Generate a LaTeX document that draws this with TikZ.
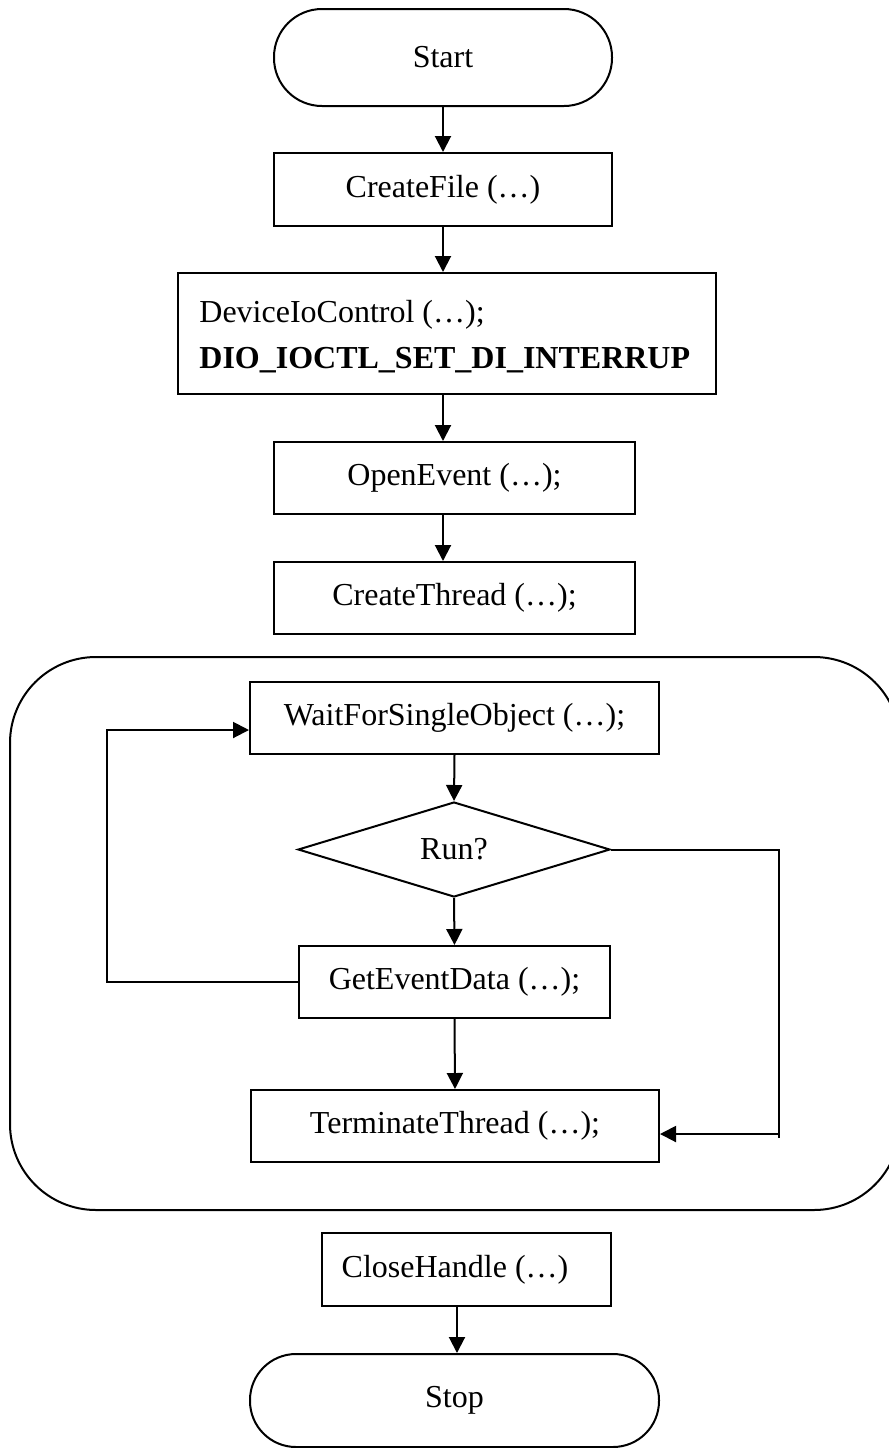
\documentclass[tikz,border=0pt]{standalone}
\usepackage{fontspec}
\setmainfont{Liberation Serif}
\usetikzlibrary{arrows.meta,shapes.geometric}
\begin{document}
\begin{tikzpicture}[x=0.5pt,y=-0.5pt,
  every node/.style={font=\fontsize{16pt}{19pt}\selectfont, inner sep=0pt},
  line/.style={line width=1pt},
  arr/.style={line width=1pt, -{Triangle[length=8pt,width=8pt]}},
  proc/.style={draw, line width=1pt, rectangle},
  termbox/.style={draw, line width=1pt, rectangle, rounded corners=#1},
  decide/.style={draw, line width=1pt, diamond}
]
\useasboundingbox (0,0) rectangle (889,1448);

% outer frame of the worker thread
\node[draw, line width=1pt, rounded corners=43pt, minimum width=445pt, minimum height=276.5pt] (frame) at (455,933.5) {};

% main sequence
\node[termbox=24pt, minimum width=169pt, minimum height=48.5pt] (start) at (443,57.5) {Start};
\node[proc, minimum width=169pt, minimum height=36.5pt] (cfile) at (443,189.5) {CreateFile (…)};
\node[proc, minimum width=269pt, minimum height=60.5pt] (dio) at (447,333.5) {};
\node[anchor=base west] (dioA) at (199,322) {DeviceIoControl (…);};
\node[anchor=base west, font=\fontsize{16pt}{19pt}\selectfont\bfseries] (dioB) at (199,368) {DIO\_IOCTL\_SET\_DI\_INTERRUP};
\node[proc, minimum width=180.5pt, minimum height=36pt] (open) at (454.5,478) {OpenEvent (…);};
\node[proc, minimum width=180.5pt, minimum height=36pt] (thread) at (454.5,598) {CreateThread (…);};

% thread loop
\node[proc, minimum width=204.5pt, minimum height=36pt] (wait) at (454.5,718) {WaitForSingleObject (…);};
\node[decide, minimum width=156pt, minimum height=47.5pt] (run) at (454,849.5) {Run?};
\node[proc, minimum width=155.5pt, minimum height=36pt] (getev) at (454.5,982) {GetEventData (…);};
\node[proc, minimum width=204pt, minimum height=36pt] (term) at (455,1126) {TerminateThread (…);};

% shutdown
\node[proc, minimum width=144.5pt, minimum height=36.5pt] (close) at (466.5,1269.5) {};
\node (closeT) at (455,1269.5) {CloseHandle (…)};
\node[termbox=23pt, minimum width=204.5pt, minimum height=46.5pt] (stop) at (454.5,1400.5) {Stop};

% connectors
\draw[arr] (start.south) -- (cfile.north);
\draw[arr] (cfile.south) -- (cfile.south |- dio.north);
\draw[arr] (cfile.south |- dio.south) -- (cfile.south |- open.north);
\draw[arr] (cfile.south |- open.south) -- (cfile.south |- thread.north);

\draw[arr] (wait.south) -- (run.north);
\draw[arr] (run.south) -- (getev.north);
\draw[arr] (getev.south) -- (term.north);

\coordinate (loopL) at (107,982);
\coordinate (loopT) at (107,730);
\draw[arr] (getev.west) -- (loopL) -- (loopT) -- (wait.west |- loopT);

\coordinate (rTop) at (779,849.5);
\coordinate (rBot) at (779,1138);
\coordinate (rArr) at (779,1134);
\draw[line] (run.east) -- (rTop) -- (rBot);
\draw[arr] (rArr) -- (term.east |- rArr);

\draw[arr] ([xshift=1pt]closeT.south |- close.south) -- ([xshift=1pt]closeT.south |- stop.north);
\end{tikzpicture}
\end{document}
